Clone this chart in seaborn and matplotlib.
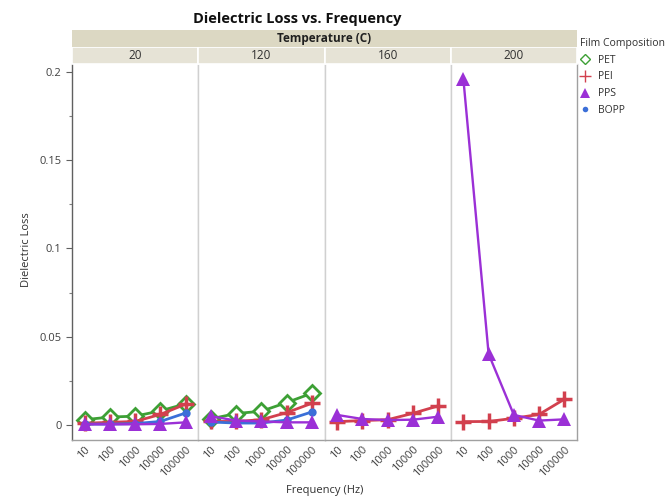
import numpy as np
import pandas as pd
import seaborn as sns
import matplotlib.pyplot as plt
from matplotlib.lines import Line2D
from matplotlib.patches import Rectangle
from matplotlib.ticker import MultipleLocator, FuncFormatter

freqs = ['10', '100', '1000', '10000', '100000']
temps = [20, 120, 160, 200]
films = ['PET', 'PEI', 'PPS', 'BOPP']

# loss per temperature, one row per temperature (None = not measured)
pet_loss = [[0.003, 0.0045, 0.005, 0.008, 0.012],
            [0.0035, 0.0065, 0.0078, 0.0127, 0.018],
            None, None]
pei_loss = [[0.001, 0.0015, 0.002, 0.006, 0.0118],
            [0.002, 0.002, 0.003, 0.007, 0.0123],
            [0.0019, 0.0025, 0.003, 0.0066, 0.0108],
            [0.0019, 0.002, 0.0038, 0.006, 0.0146]]
pps_loss = [[0.0004, 0.0004, 0.0004, 0.0006, 0.0015],
            [0.005, 0.0025, 0.002, 0.0015, 0.0015],
            [0.0057, 0.0034, 0.0028, 0.003, 0.0047],
            [0.196, 0.0402, 0.0057, 0.0025, 0.0032]]
bopp_loss = [[0.0005, 0.0005, 0.0008, 0.002, 0.0068],
             [0.0017, 0.0011, 0.0011, 0.0028, 0.0074],
             None, None]

rows = []
for film, table in zip(films, [pet_loss, pei_loss, pps_loss, bopp_loss]):
    for t, vals in zip(temps, table):
        if vals is None:
            continue
        for f, v in zip(freqs, vals):
            rows.append({'film': film, 'temp': t, 'freq': f, 'loss': v})
df = pd.DataFrame(rows)

colors = {'PET': '#3da035', 'PEI': '#d2404e', 'PPS': '#9b30d6', 'BOPP': '#3b6fd8'}
styles = {
    'PET': dict(marker='D', markersize=8.5, markerfacecolor='white', markeredgewidth=2),
    'PEI': dict(marker='+', markersize=12, markeredgewidth=2.5),
    'PPS': dict(marker='^', markersize=10, markeredgewidth=0),
    'BOPP': dict(marker='o', markersize=6, markeredgewidth=0),
}
draw_order = ['PET', 'PEI', 'BOPP', 'PPS']

sns.set_theme(style='white')
plt.rcParams['font.family'] = ['Open Sans', 'DejaVu Sans']

W, H = 670, 497
fig, axes = plt.subplots(1, 4, sharey=True, figsize=(W / 100, H / 100), dpi=100)
fig.subplots_adjust(left=72 / W, right=577 / W, top=1 - 64 / H, bottom=1 - 440 / H, wspace=0)

for i, (ax, t) in enumerate(zip(axes, temps)):
    for film in draw_order:
        sub = df[(df['temp'] == t) & (df['film'] == film)]
        if sub.empty:
            continue
        sns.lineplot(data=sub, x='freq', y='loss', ax=ax, sort=False, color=colors[film],
                     linewidth=2 if film != 'PPS' else 1.7, legend=False)
        line = ax.lines[-1]
        line.set_linestyle('-')
        line.set(**styles[film])
        line.set_markeredgecolor(colors[film])
        if film != 'PET':
            line.set_markerfacecolor(colors[film])
    ax.set_xlim(-0.5, 4.5)
    ax.set_ylim(-0.0085, 0.2045)
    ax.set_xlabel('')
    ax.set_ylabel('')
    ax.tick_params(axis='x', labelrotation=45, labelsize=8, colors='#404040', length=0, pad=3)
    for lab in ax.get_xticklabels():
        lab.set_ha('right')
        lab.set_rotation_mode('anchor')
    for s in ax.spines.values():
        s.set_color('#d0d0d0')
        s.set_linewidth(1)
    ax.spines['top'].set_visible(False)
    ax.spines['bottom'].set_color('#a0a0a0')
    if i == 0:
        ax.spines['left'].set_color('#606060')
        ax.yaxis.set_major_locator(MultipleLocator(0.05))
        ax.yaxis.set_minor_locator(MultipleLocator(0.025))
        ax.yaxis.set_major_formatter(FuncFormatter(lambda v, p: f'{v:g}'))
        ax.tick_params(axis='y', which='major', left=True, length=4, width=0.8,
                       color='#606060', labelsize=8, labelcolor='#404040')
        ax.tick_params(axis='y', which='minor', left=True, length=2.5, width=0.8, color='#808080')
    else:
        ax.tick_params(axis='y', left=False)
    if i == 3:
        ax.spines['right'].set_color('#a0a0a0')

    # per-panel strip
    x0 = ax.get_position().x0
    w = ax.get_position().width
    fig.patches.append(Rectangle((x0, 1 - 64 / H), w, 17 / H, transform=fig.transFigure,
                                 facecolor='#e6e3d6', edgecolor='white', linewidth=1.2))
    fig.text(x0 + w / 2, 1 - 55.5 / H, str(t), ha='center', va='center', fontsize=8.5, color='#303030')

# top strip
fig.patches.append(Rectangle((72 / W, 1 - 47 / H), 505 / W, 17 / H, transform=fig.transFigure,
                             facecolor='#dcd8c3', edgecolor='none'))
fig.text(324.5 / W, 1 - 38.5 / H, 'Temperature (C)', ha='center', va='center',
         fontsize=8.5, fontweight='bold', color='#202020')

fig.text(297 / W, 1 - 19 / H, 'Dielectric Loss vs. Frequency', ha='center', va='center',
         fontsize=10.5, fontweight='bold', color='#101010')
fig.text(27 / W, 1 - 250 / H, 'Dielectric Loss', rotation=90, ha='center', va='center',
         fontsize=8, color='#303030')
fig.text(325 / W, 1 - 491 / H, 'Frequency (Hz)', ha='center', va='center',
         fontsize=8, color='#303030')

legend_sizes = {'PET': 5.5, 'PEI': 8, 'PPS': 6.5, 'BOPP': 4}
handles = []
for film in films:
    st = dict(styles[film])
    st['markersize'] = legend_sizes[film]
    st['markeredgewidth'] = 1 if film in ('PET', 'PEI') else 0
    handles.append(Line2D([], [], linestyle='none', color=colors[film], **st))
leg = fig.legend(handles, films, title='Film Composition', loc='upper left',
                 bbox_to_anchor=(580 / W, 1 - 38 / H), frameon=False, fontsize=7.5,
                 title_fontsize=7.5, handlelength=1, handletextpad=0.7, labelspacing=0.55,
                 borderaxespad=0, borderpad=0)
leg._legend_box.align = 'left'
for txt in leg.get_texts():
    txt.set_color('#303030')
leg.get_title().set_color('#303030')

fig.savefig('out.png', dpi=100, facecolor='white')
